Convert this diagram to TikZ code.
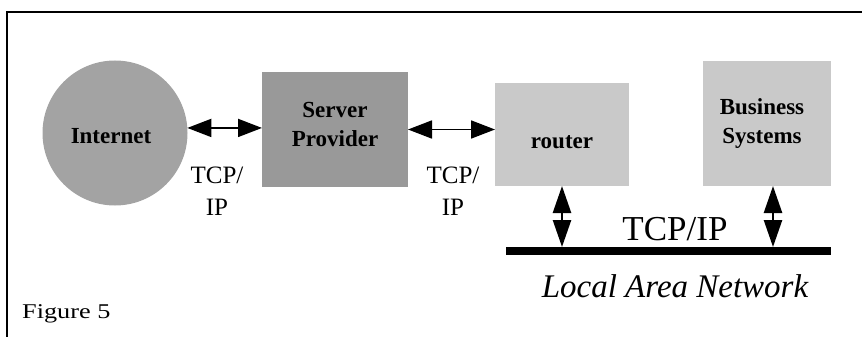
\documentclass[tikz,border=0pt]{standalone}
\usepackage{fontspec}
\setmainfont{Liberation Serif}
\usetikzlibrary{arrows.meta}
\definecolor{inetgray}{gray}{0.64}
\definecolor{srvgray}{gray}{0.60}
\definecolor{boxgray}{gray}{0.79}
\tikzset{
  blob/.style={draw=none, inner sep=0pt, outer sep=0pt},
  boxlabel/.style={font=\fontsize{23}{29}\selectfont\bfseries, align=center, inner sep=0pt},
  proto/.style={font=\fontsize{25}{32}\selectfont, align=center, inner sep=0pt},
  dblarrow/.style={line width=1.8pt, {Triangle[length=24pt,width=18pt]}-{Triangle[length=24pt,width=18pt]}},
  vdblarrow/.style={line width=2.5pt, {Triangle[length=27pt,width=18pt]}-{Triangle[length=27pt,width=18pt]}},
}
\begin{document}
\begin{tikzpicture}[x=1pt,y=-1pt]
\useasboundingbox (0,0) rectangle (862,337);
% frame
\draw[line width=2pt] (862,12.5) -- (7,12.5) -- (7,337);
% shapes
\node[blob, circle, fill=inetgray, minimum size=145pt] (inet) at (115,133) {};
\node[blob, rectangle, fill=srvgray, minimum width=146pt, minimum height=115pt] (srv) at (335,129.5) {};
\node[blob, rectangle, fill=boxgray, minimum width=134pt, minimum height=103pt] (rtr) at (562,134.5) {};
\node[blob, rectangle, fill=boxgray, minimum width=128pt, minimum height=125pt] (biz) at (767,123.5) {};
\node[blob, rectangle, fill=black, minimum width=325pt, minimum height=8pt] (lan) at (668.5,251) {};
% box texts
\node[boxlabel, anchor=base] (tinet) at (111,143) {Internet};
\node[boxlabel] (tsrv) at (335,124.5) {Server\\Provider};
\node[boxlabel, anchor=base] (trtr) at (562,148) {router};
\node[boxlabel] (tbiz) at (762,124) {Business\\Systems};
% connectors
\draw[dblarrow] (inet.4) -- (inet.4 -| srv.west);
\draw[dblarrow] (srv.east) -- (srv.east -| rtr.west);
\draw[vdblarrow] (rtr.south) -- (rtr.south |- lan.north);
\draw[vdblarrow] ([xshift=6pt]biz.south) -- ([xshift=6pt]biz.south |- lan.north);
% protocol labels
\node[proto] (p1) at (217,191) {TCP/\\IP};
\node[proto] (p2) at (453,191) {TCP/\\IP};
\node[font=\fontsize{35}{40}\selectfont, inner sep=0pt, anchor=base] (plan) at (675,240) {TCP/IP};
\node[font=\fontsize{33}{38}\selectfont\itshape, inner sep=0pt, anchor=base] (lanlabel) at (675,297) {Local Area Network};
\node[font=\fontsize{21}{24}\selectfont, inner sep=0pt, anchor=base west] (fig) at (22,318) {\scalebox{1.25}[1]{Figure 5}};
\end{tikzpicture}
\end{document}
